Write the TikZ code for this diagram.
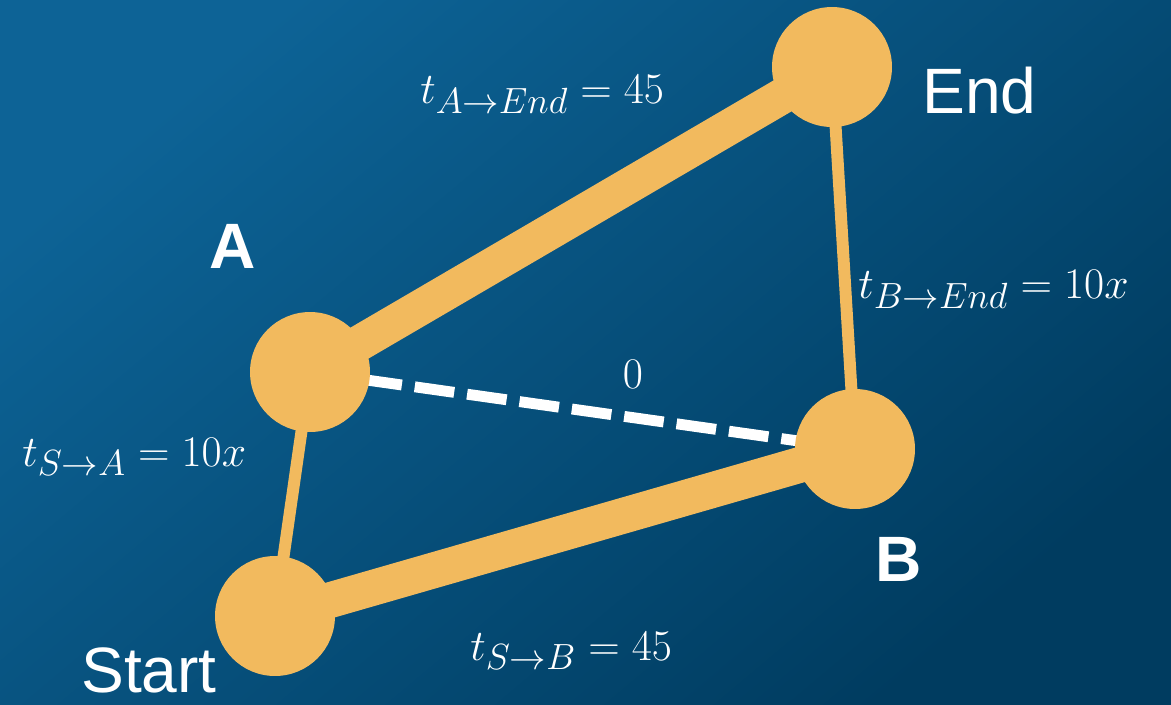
\documentclass[tikz,border=0pt]{standalone}
\usepackage{fontspec}
\setmainfont{Liberation Sans}
\pgfdeclarelayer{back}
\pgfdeclarelayer{edges}
\pgfsetlayers{back,edges,main}
\definecolor{sand}{RGB}{242,186,94}
\definecolor{bgtop}{RGB}{13,99,150}
\definecolor{bgbot}{RGB}{0,60,96}
\tikzset{
  city/.style={circle,fill=sand,minimum size=2.4cm,inner sep=0pt},
  wideroad/.style={draw=sand,line width=20.4pt},
  thinroad/.style={draw=sand,line width=6.8pt},
  zeroroad/.style={draw=white,line width=6.2pt,dash pattern=on 22.7pt off 7.4pt},
  cost/.style={text=white,font=\fontsize{30}{35}\selectfont,inner sep=0pt},
  place/.style={text=white,font=\fontsize{36.5}{43}\selectfont,inner sep=0pt}
}
\begin{document}
\begin{tikzpicture}[x=0.02cm,y=-0.02cm]
\begin{pgfonlayer}{back}
\shade[top color=bgtop,bottom color=bgbot,shading angle=40] (0,0) rectangle (1171,704);
\end{pgfonlayer}
\useasboundingbox (0,0) rectangle (1171,704);
% cities
\node[city] (A) at (310,372) {};
\node[city] (End) at (832,67) {};
\node[city] (B) at (855,449) {};
\node[city] (Start) at (275,616) {};
% roads
\begin{pgfonlayer}{edges}
\draw[wideroad] (A.center) -- (End.center);
\draw[wideroad] (Start.center) -- (B.center);
\draw[thinroad] (Start.center) -- (A.center);
\draw[thinroad] (B.center) -- (End.center);
\draw[zeroroad] (A.center) -- (B.center);
\end{pgfonlayer}
% names
\node[place,anchor=base west] (lEnd) at (922,113) {End};
\node[place,anchor=base west,font=\fontsize{36.5}{43}\selectfont\bfseries] (lA) at (209,268) {A};
\node[place,anchor=base west,font=\fontsize{36.5}{43}\selectfont\bfseries] (lB) at (875,581) {B};
\node[place,anchor=base west] (lStart) at (81,692) {Start};
% costs
\node[cost,anchor=base west] (cAE) at (420,103) {$t_{A\to End}=45$};
\node[cost,anchor=base west] (cBE) at (858,298) {$t_{B\to End}=10x$};
\node[cost,anchor=base] (cAB) at (633,388) {$0$};
\node[cost,anchor=base west] (cSA) at (22,466) {$t_{S\to A}=10x$};
\node[cost,anchor=base west] (cSB) at (470,660) {$t_{S\to B}=45$};
\end{tikzpicture}
\end{document}
